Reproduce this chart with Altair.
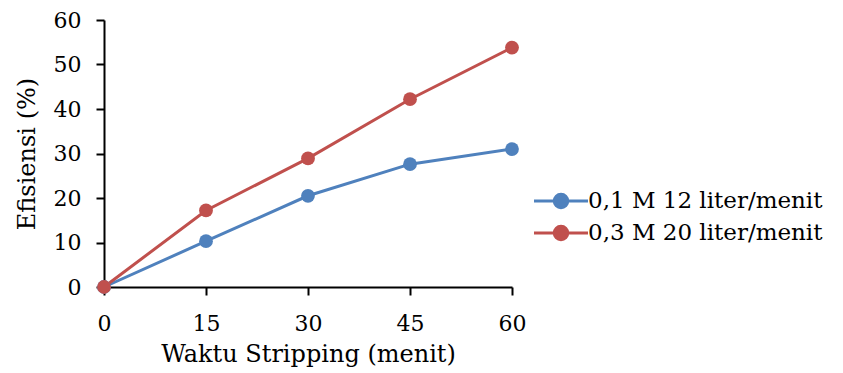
import altair as alt
import pandas as pd

waktu = [0, 15, 30, 45, 60]
seri_a = "0,1 M 12 liter/menit"
seri_b = "0,3 M 20 liter/menit"
nilai_a = [0, 10.3, 20.5, 27.6, 31.0]
nilai_b = [0, 17.2, 28.9, 42.2, 53.8]

df = pd.DataFrame({
    "Waktu": waktu + waktu,
    "Efisiensi": nilai_a + nilai_b,
    "Seri": [seri_a] * len(waktu) + [seri_b] * len(waktu),
})

FONT = "DejaVu Serif"

color = alt.Color(
    "Seri:N",
    scale=alt.Scale(domain=[seri_a, seri_b], range=["#4F81BD", "#C0504D"]),
    legend=alt.Legend(
        title=None,
        orient="none",
        legendX=442,
        legendY=166,
        symbolType="M-2,0H2M-0.5,0A0.5,0.5,0,1,1,0.5,0A0.5,0.5,0,1,1,-0.5,0Z",
        symbolSize=729,
        symbolStrokeWidth=3,
        labelFont=FONT,
        labelFontSize=23,
        labelColor="black",
        labelOffset=12,
        rowPadding=4,
        labelLimit=400,
    ),
)

chart = alt.Chart(df).mark_line(
    strokeWidth=3,
    point=alt.OverlayMarkDef(filled=True, size=190, opacity=1),
).encode(
    x=alt.X("Waktu:Q", scale=alt.Scale(domain=[0, 60]),
            axis=alt.Axis(values=waktu, title="Waktu Stripping (menit)")),
    y=alt.Y("Efisiensi:Q", scale=alt.Scale(domain=[0, 60]),
            axis=alt.Axis(values=[0, 10, 20, 30, 40, 50, 60], title="Efisiensi (%)")),
    color=color,
).properties(
    width=408,
    height=267,
    autosize=alt.AutoSizeParams(type="none"),
    padding={"left": 104, "top": 20, "right": 331, "bottom": 86},
).configure_view(stroke=None).configure_axis(
    grid=False,
    domainColor="black",
    domainWidth=2,
    tickColor="black",
    tickWidth=2,
    tickSize=8,
    labelFlush=False,
    labelFont=FONT,
    labelFontSize=22,
    labelColor="black",
    titleFont=FONT,
    titleFontSize=24,
    titleFontWeight="normal",
    titleColor="black",
).configure_axisX(
    labelPadding=18,
    titlePadding=8,
).configure_axisY(
    labelPadding=15,
    titlePadding=14,
)

chart.save("out.html", embed_options={"renderer": "svg", "actions": False})
